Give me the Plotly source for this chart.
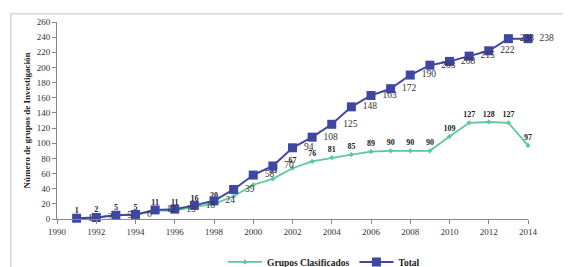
import plotly.graph_objects as go

years = list(range(1991, 2015))
total = [1, 2, 5, 6, 12, 13, 18, 24, 39, 58, 70, 94, 108, 125, 148, 163, 172, 190, 203, 208, 215, 222, 238, 238]
clasificados = [1, 2, 5, 5, 11, 11, 16, 20, 30, 45, 53, 67, 76, 81, 85, 89, 90, 90, 90, 109, 127, 128, 127, 97]
total_labels = [str(v) for v in total]
clas_labels = [str(v) for v in clasificados]

serif = "Liberation Serif"
blue = "#3f47a3"
green = "#5cc99b"

fig = go.Figure()
fig.add_trace(go.Scatter(
    x=years, y=clasificados, name="<b>Grupos Clasificados</b>",
    mode="lines+markers+text", text=clas_labels, textposition="top center",
    texttemplate="<b>%{text}</b>",
    textfont=dict(family=serif, size=8, color="#222222"),
    line=dict(color=green, width=1.8),
    marker=dict(color=green, size=4, symbol="diamond"),
    cliponaxis=False,
))
fig.add_trace(go.Scatter(
    x=years, y=total, name="<b>Total</b>",
    mode="lines+markers+text", text=total_labels, textposition="middle right",
    texttemplate="\u00a0\u00a0%{text}",
    textfont=dict(family=serif, size=9.5, color="#333333"),
    line=dict(color=blue, width=2),
    marker=dict(color=blue, size=9, symbol="square"),
    cliponaxis=False,
))

fig.update_layout(
    width=563, height=259,
    margin=dict(l=49, r=43, t=14, b=48, autoexpand=False),
    paper_bgcolor="white", plot_bgcolor="white",
    font=dict(family=serif, size=9, color="#333"),
    showlegend=True,
    legend=dict(orientation="h", x=0.567, xanchor="center", y=-0.218, yanchor="middle",
                font=dict(family=serif, size=9.5, color="#222"), traceorder="normal",
                itemwidth=34),
    xaxis=dict(range=[1990, 2014], dtick=2, tick0=1990, showgrid=False, zeroline=False,
               automargin=False,
               showline=True, linecolor="#888", ticks="outside", ticklen=4, tickcolor="#888",
               tickfont=dict(family=serif, size=9, color="#333")),
    yaxis=dict(range=[0, 260], dtick=20, showgrid=False, zeroline=False,
               automargin=False,
               showline=True, linecolor="#888", ticks="outside", ticklen=4, tickcolor="#888",
               tickfont=dict(family=serif, size=9, color="#333"),
               title=dict(text="<b>Número de grupos de Investigación</b>",
                          font=dict(family=serif, size=9, color="#222"), standoff=4)),
    annotations=[dict(xref="paper", yref="paper", x=-0.1, y=1.045, xanchor="left", yanchor="top",
                      text=" ", showarrow=False, width=600, height=300,
                      bordercolor="#d8d8d8", borderwidth=1.5, borderpad=0)],
)

fig.write_html("out.html")
